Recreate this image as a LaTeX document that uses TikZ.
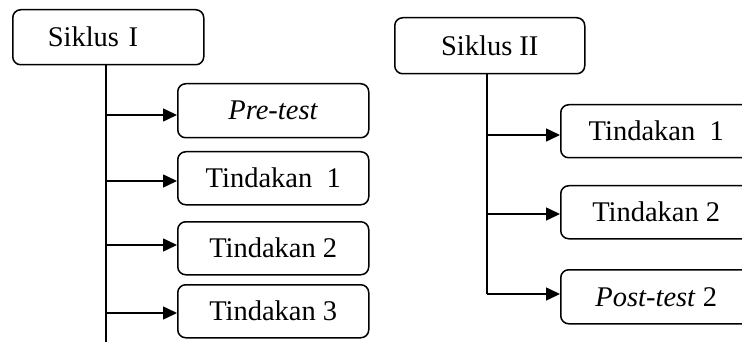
\documentclass[tikz,border=0pt]{standalone}
\usepackage{fontspec}
\setmainfont{Liberation Serif}
\usetikzlibrary{arrows.meta}
\begin{document}
\begin{tikzpicture}[x=1pt,y=-1pt,
  box/.style={draw, line width=1.5pt, rounded corners=8pt, minimum width=191pt, minimum height=54pt, inner sep=0pt, font=\fontsize{28.5}{32}\selectfont, anchor=north west},
  conn/.style={line width=1.5pt},
  arr/.style={line width=1.5pt, -{Triangle[length=14pt,width=13pt]}}]
\useasboundingbox (0,0) rectangle (742,342);
% left
\node[box, minimum height=55pt, text width=121pt, align=left, inner xsep=35pt] (s1) at (12,9) {Siklus I};
\node[box] (p1) at (177,83) {\textit{Pre-test}};
\node[box, minimum height=53pt] (t11) at (177,151) {Tindakan\ \ 1};
\node[box, minimum height=53pt] (t12) at (177,221) {Tindakan 2};
\node[box, minimum height=53pt] (t13) at (177,284) {Tindakan 3};
\coordinate (l0) at (106,64);
\coordinate (lend) at (106,345);
\draw[conn] (l0) -- (lend);
\coordinate (a1) at (106,115);
\coordinate (a2) at (106,181);
\coordinate (a3) at (106,245);
\coordinate (a4) at (106,313);
\draw[arr] (a1) -- (a1 -| p1.west);
\draw[arr] (a2) -- (a2 -| t11.west);
\draw[arr] (a3) -- (a3 -| t12.west);
\draw[arr] (a4) -- (a4 -| t13.west);
% right
\node[box, minimum width=190pt, minimum height=56pt] (s2) at (394,17) {Siklus II};
\node[box, minimum height=53pt] (r1) at (560,104) {Tindakan\ \ 1};
\node[box, minimum height=53pt] (r2) at (560,185) {Tindakan 2};
\node[box, minimum height=54pt] (r3) at (560,269) {\textit{Post-test} 2};
\coordinate (m0) at (487,73);
\coordinate (b1) at (487,135);
\coordinate (b2) at (487,214);
\coordinate (b3) at (487,294);
\draw[conn] (m0) -- (b3);
\draw[arr] (b1) -- (b1 -| r1.west);
\draw[arr] (b2) -- (b2 -| r2.west);
\draw[arr] (b3) -- (b3 -| r3.west);
\end{tikzpicture}
\end{document}
